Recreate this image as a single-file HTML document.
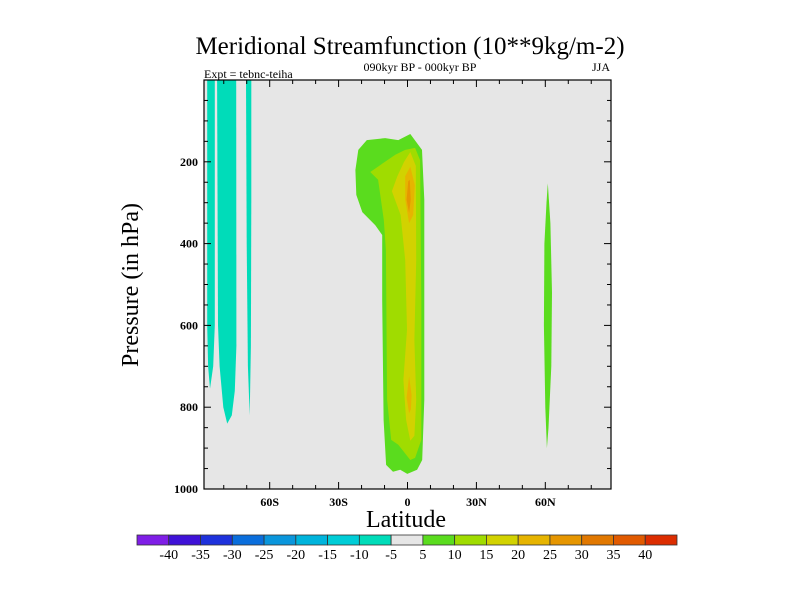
<!DOCTYPE html>
<html><head><meta charset="utf-8">
<style>
body{margin:0;background:#fff;}
svg{display:block;font-family:"Liberation Serif",serif;}
</style></head>
<body>
<svg id="chart" width="800" height="600" viewBox="0 0 800 600">
<text x="410" y="54" font-size="25" text-anchor="middle">Meridional Streamfunction (10**9kg/m-2)</text>
<text x="420" y="71" font-size="12" text-anchor="middle">090kyr BP - 000kyr BP</text>
<text x="610" y="71" font-size="12" text-anchor="end">JJA</text>
<text x="204" y="78" font-size="12">Expt = tebnc-teiha</text>
<rect x="204" y="80" width="407" height="409" fill="#e6e6e6"/>
<g id="contours"></g>
<g id="axes"></g>
<text x="406" y="527" font-size="24" text-anchor="middle">Latitude</text>
<text transform="translate(138,285) rotate(-90)" font-size="24" text-anchor="middle">Pressure (in hPa)</text>
<g id="colorbar"></g>
</svg>
<script>
const latTicks=[-60,-30,0,30,60];
const latTickLabels=["60S","30S","0","30N","60N"];
const presTicks=[200,400,600,800,1000];
const levelColors=["#7f1ee6","#3f12d8","#1e32dc","#0a6edc","#0a96dc","#00b4dc","#00cdd7","#00dcb9","#e6e6e6","#5adc1e","#a0dc00","#d2d200","#e6b400","#e69600","#e17800","#e15a00","#dc2d00"];
const levelLabels=["-40","-35","-30","-25","-20","-15","-10","-5","5","10","15","20","25","30","35","40"];
// contour regions: [colour index, [[lat, hPa], ...]]
const negStripA=[[-87.2,0],[-83.9,0],[-83.9,600],[-84.6,700],[-86.0,755],[-86.8,700],[-87.2,600]];
const negStripB=[[-82.9,0],[-74.6,0],[-74.5,650],[-75.2,760],[-76.5,820],[-78.5,840],[-80.2,800],[-81.8,700],[-82.5,600]];
const negStripC=[[-70.3,0],[-68.0,0],[-68.0,300],[-68.2,650],[-68.7,820],[-69.5,700],[-70.0,400]];
const pos5Equator=[[-22.7,220],[-21.4,171],[-17.7,147],[-9.7,142],[-4.0,147],[1.2,132],[6.3,171],[7.3,293],[7.3,782],[6.4,929],[4.2,953],[-0.1,963],[-3.2,953],[-6.3,958],[-9.3,941],[-10.4,831],[-11.0,538],[-11.0,379],[-14.0,355],[-19.7,323],[-22.3,281]];
const pos10Equator=[[-16.2,225],[-11.9,208],[-5.3,183],[-1.0,171],[3.3,166],[5.5,196],[6.0,538],[6.0,880],[3.3,924],[1.2,929],[-4.0,892],[-7.1,880],[-8.9,782],[-9.4,416],[-10.3,342],[-12.8,244],[-15.3,230]];
const pos15Equator=[[-4.4,235],[-1.5,200],[1.2,176],[3.6,210],[3.8,440],[3.0,636],[3.8,782],[3.0,870],[1.2,882],[-0.6,831],[-1.8,733],[-0.2,611],[-1.0,440],[-3.0,330],[-6.8,272]];
const pos20Upper=[[-1.0,235],[1.2,212],[3.2,257],[2.5,330],[0.7,350],[-1.0,293]];
const pos20Lower=[[0.7,725],[1.8,770],[1.5,805],[0.7,815],[-0.4,777]];
const pos25Upper=[[0.3,248],[1.0,244],[1.4,293],[0.7,325],[-0.4,293]];
const pos5North=[[61.1,252],[62.2,350],[62.9,520],[62.6,700],[61.4,850],[60.7,900],[60.0,800],[59.4,600],[59.6,400],[60.5,300]];
const regions=[[7,negStripA,"neg-strip-a"],[7,negStripB,"neg-strip-b"],[7,negStripC,"neg-strip-c"],[9,pos5Equator,"pos5-equator"],[10,pos10Equator,"pos10-equator"],[11,pos15Equator,"pos15-equator"],[12,pos20Upper,"pos20-upper"],[12,pos20Lower,"pos20-lower"],[13,pos25Upper,"pos25-upper"],[9,pos5North,"pos5-north"]];

const NS="http://www.w3.org/2000/svg";
const X0=204,X1=611,Y0=80,Y1=489,LATMIN=-88.6,LATMAX=88.6,PMIN=0,PMAX=1000;
const xs=lat=>X0+(lat-LATMIN)/(LATMAX-LATMIN)*(X1-X0);
const ys=p=>Y0+(p-PMIN)/(PMAX-PMIN)*(Y1-Y0);
function mk(tag,attrs,parent){const e=document.createElementNS(NS,tag);for(const k in attrs)e.setAttribute(k,attrs[k]);parent.appendChild(e);return e;}

const cg=document.getElementById('contours');
regions.forEach(r=>{
  const pts=r[1].map(q=>xs(q[0]).toFixed(1)+","+ys(q[1]).toFixed(1)).join(" ");
  const el=mk('polygon',{points:pts,fill:levelColors[r[0]]},cg);
  
  
});

const ag=document.getElementById('axes');
const frame=mk('rect',{x:X0,y:Y0,width:X1-X0,height:Y1-Y0,fill:"none",stroke:"#000","stroke-width":1.2},ag);


for(let lat=-80;lat<=80;lat+=10){
  const major=lat%30===0,len=major?7:4,x=xs(lat);
  const t1=mk('line',{x1:x,x2:x,y1:Y1,y2:Y1-len,stroke:"#000"},ag);
  
  
  const t2=mk('line',{x1:x,x2:x,y1:Y0,y2:Y0+len,stroke:"#000"},ag);
  
  
}
latTicks.forEach((lat,i)=>{
  const t=mk('text',{x:xs(lat),y:506,"font-size":12,"font-weight":"bold","text-anchor":"middle"},ag);
  t.textContent=latTickLabels[i];
  
  
});
for(let p=50;p<=950;p+=50){
  const major=p%200===0,len=major?7:4,y=ys(p);
  const t1=mk('line',{x1:X0,x2:X0+len,y1:y,y2:y,stroke:"#000"},ag);
  
  
  const t2=mk('line',{x1:X1,x2:X1-len,y1:y,y2:y,stroke:"#000"},ag);
  
  
}
presTicks.forEach(p=>{
  const t=mk('text',{x:X0-6,y:ys(p)+4,"font-size":12,"font-weight":"bold","text-anchor":"end"},ag);
  t.textContent=p;
  
  
});

const bg=document.getElementById('colorbar');
const BX0=137,BX1=677,BY=535,BH=10,bw=(BX1-BX0)/levelColors.length;
levelColors.forEach((c,i)=>{
  const r=mk('rect',{x:BX0+i*bw,y:BY,width:bw,height:BH,fill:c,stroke:"#333","stroke-width":0.8},bg);
  
  
});
levelLabels.forEach((l,i)=>{
  const t=mk('text',{x:BX0+(i+1)*bw,y:559,"font-size":14,"text-anchor":"middle"},bg);
  t.textContent=l;
  
  
});
</script>
</body></html>
